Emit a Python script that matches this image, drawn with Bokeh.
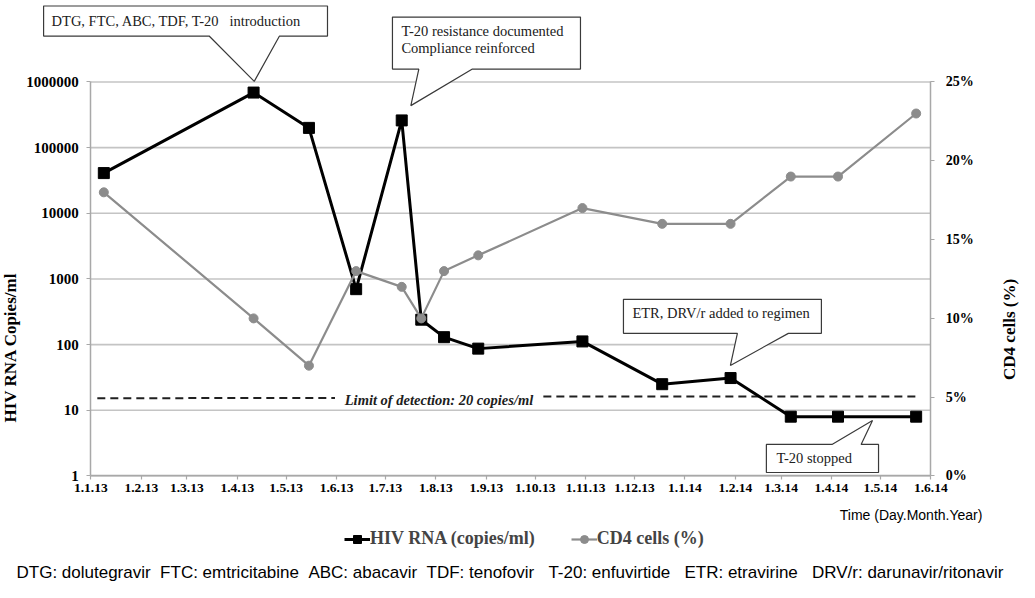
import numpy as np
from bokeh.plotting import figure
from bokeh.models import (ColumnDataSource, FixedTicker, Label, Legend, LegendItem,
                          LinearAxis, LinearScale, PolyAnnotation, Range1d)
from bokeh.embed import file_html
from bokeh.resources import INLINE

# ---------------- data ----------------
origin_date = "2013-01-01"
sample_dates = ["2013-01-09", "2013-04-11", "2013-05-15", "2013-06-13", "2013-07-11",
                "2013-07-23", "2013-08-06", "2013-08-27", "2013-10-30", "2013-12-18",
                "2014-01-29", "2014-03-07", "2014-04-05", "2014-05-23"]
hiv_rna = [41000, 690000, 200000, 700, 260000, 240, 130, 87, 112, 25, 31, 8, 8, 8]
cd4_pct = [18, 10, 7, 13, 12, 10, 13, 14, 17, 16, 16, 19, 19, 23]

tick_dates = ["2013-01-01", "2013-02-01", "2013-03-01", "2013-04-01", "2013-05-01",
              "2013-06-01", "2013-07-01", "2013-08-01", "2013-09-01", "2013-10-01",
              "2013-11-01", "2013-12-01", "2014-01-01", "2014-02-01", "2014-03-01",
              "2014-04-01", "2014-05-01", "2014-06-01"]
tick_labels = ["1.1.13", "1.2.13", "1.3.13", "1.4.13", "1.5.13", "1.6.13", "1.7.13",
               "1.8.13", "1.9.13", "1.10.13", "1.11.13", "1.12.13", "1.1.14", "1.2.14",
               "1.3.14", "1.4.14", "1.5.14", "1.6.14"]
rna_ticks = [1, 10, 100, 1000, 10000, 100000, 1000000]
rna_tick_labels = ["1", "10", "100", "1000", "10000", "100000", "1000000"]
cd4_ticks = [0, 5, 10, 15, 20, 25]
cd4_tick_labels = ["0%", "5%", "10%", "15%", "20%", "25%"]

lod_text = "Limit of detection: 20 copies/ml"
NB = "\u00a0"  # keeps the wider gaps of the original (SVG collapses plain spaces)
footnote = ("DTG: dolutegravir " + NB + "FTC: emtricitabine " + NB + "ABC: abacavir " + NB +
            "TDF: tenofovir " + NB * 2 + "T-20: enfuvirtide " + NB * 2 +
            "ETR: etravirine " + NB * 2 + "DRV/r: darunavir/ritonavir")

# ---------------- helpers ----------------
def to_days(dates):
    return (np.array(dates, dtype="datetime64[D]") - np.datetime64(origin_date)).astype(int)

days = to_days(sample_dates)
tick_days = [int(d) for d in to_days(tick_dates)]
x_first, x_last = tick_days[0], tick_days[-1]

src = ColumnDataSource(dict(day=days, rna=hiv_rna, cd4=cd4_pct))

SERIF = "Liberation Serif"
SANS = "Liberation Sans"
AXIS_GRAY = "#a8a8a8"
GRID_GRAY = "#c4c4c4"

# The frame covers the whole canvas so that the call-outs and notes that sit
# outside the axes box are not clipped; the axes are pinned with fixed_location.
p = figure(width=1019, height=582, y_axis_type="log",
           x_range=Range1d(-55.47, 570.49), y_range=Range1d(10 ** -1.622, 10 ** 7.241),
           output_backend="svg", toolbar_location=None,
           min_border_left=0, min_border_right=0, min_border_top=0, min_border_bottom=0)
p.outline_line_color = None
p.background_fill_color = "white"
p.border_fill_color = "white"
p.grid.visible = False

def style_axis(ax, size="14px"):
    ax.axis_line_color = AXIS_GRAY
    ax.axis_line_width = 1.5
    ax.major_tick_line_color = AXIS_GRAY
    ax.major_tick_line_width = 1.2
    ax.major_tick_in = 0
    ax.major_tick_out = 4
    ax.major_label_text_font = SERIF
    ax.major_label_text_font_style = "bold"
    ax.major_label_text_font_size = size
    ax.major_label_text_color = "black"

# x axis
xax = p.xaxis[0]
xax.ticker = FixedTicker(ticks=tick_days, minor_ticks=[])
xax.major_label_overrides = {d: l for d, l in zip(tick_days, tick_labels)}
xax.fixed_location = rna_ticks[0]
xax.bounds = (x_first, x_last)
style_axis(xax, "13.5px")
xax.major_label_standoff = 4

# left (log) axis
yax = p.yaxis[0]
yax.ticker = FixedTicker(ticks=rna_ticks, minor_ticks=[])
yax.major_label_overrides = {t: l for t, l in zip(rna_ticks, rna_tick_labels)}
yax.fixed_location = x_first
yax.bounds = (rna_ticks[0], rna_ticks[-1])
style_axis(yax, "15px")
yax.major_label_standoff = 8

# right (CD4 %) axis on a linear scale
p.extra_y_ranges = {"cd4": Range1d(-6.758, 30.171)}
p.extra_y_scales = {"cd4": LinearScale()}
rax = LinearAxis(y_range_name="cd4")
rax.ticker = FixedTicker(ticks=cd4_ticks, minor_ticks=[])
rax.major_label_overrides = {t: l for t, l in zip(cd4_ticks, cd4_tick_labels)}
rax.fixed_location = x_last
rax.bounds = (cd4_ticks[0], cd4_ticks[-1])
style_axis(rax)
rax.major_label_standoff = 11
p.add_layout(rax, "right")

# horizontal grid lines at the decade ticks, between the two axes
p.segment(x0=[x_first] * len(rna_ticks), x1=[x_last] * len(rna_ticks),
          y0=rna_ticks, y1=rna_ticks, line_color=GRID_GRAY, line_width=1.6)

# axis titles
p.add_layout(Label(x=-49.5, y=10 ** 1.957, text="HIV RNA Copies/ml", angle=np.pi / 2,
                   text_align="center", text_baseline="middle", text_font=SERIF,
                   text_font_style="bold", text_font_size="17px", text_color="black"))
p.add_layout(Label(x=564.5, y=9.3, y_range_name="cd4", text="CD4 cells (%)",
                   angle=np.pi / 2, text_align="center", text_baseline="middle",
                   text_font=SERIF, text_font_style="bold", text_font_size="17px",
                   text_color="black"))

# limit of detection dashed line (two pieces around its label)
lod_left_x = [4, 150]
lod_left_y = [15.3, 15.4]
lod_right_x = [278, 507]
lod_right_y = [16.2, 16.3]
p.line(lod_left_x, lod_left_y, line_color="#202020", line_width=2, line_dash="8 5")
p.line(lod_right_x, lod_right_y, line_color="#202020", line_width=2, line_dash="8 5")
p.add_layout(Label(x=156, y=10 ** 1.155, text=lod_text, text_baseline="middle",
                   text_font=SERIF, text_font_style="bold italic", text_font_size="14.5px",
                   text_color="#202020"))

# series
rna_line = p.line("day", "rna", source=src, line_color="black", line_width=3)
rna_pts = p.scatter("day", "rna", source=src, marker="square", size=11,
                    fill_color="black", line_color="black")
cd4_line = p.line("day", "cd4", source=src, y_range_name="cd4",
                  line_color="#8c8c8c", line_width=2.2)
cd4_pts = p.scatter("day", "cd4", source=src, y_range_name="cd4", marker="circle",
                    size=9, fill_color="#8c8c8c", line_color="#8c8c8c")

# callouts (data units)
def callout(x0, x1, ytop, ybot, b1, b2, tipx, tipy, side="bottom"):
    if side == "bottom":
        xs = [x0, x1, x1, b2, tipx, b1, x0]
        ys = [ytop, ytop, ybot, ybot, tipy, ybot, ybot]
    else:
        xs = [x0, b1, tipx, b2, x1, x1, x0]
        ys = [ytop, ytop, tipy, ytop, ytop, ybot, ybot]
    p.add_layout(PolyAnnotation(xs=xs, ys=ys, fill_color="white", fill_alpha=1.0,
                                line_color="#3a3a3a", line_alpha=1.0, line_width=1.2))

def note(x, y, text):
    p.add_layout(Label(x=x, y=y, text=text, text_baseline="middle", text_font=SERIF,
                       text_font_size="14.5px", text_color="#202020"))

callout(-29, 145.4, 10 ** 7.157, 10 ** 6.70, 72.7, 115.9, 100.4, 10 ** 6.01)
note(-24.1, 10 ** 6.928, "DTG, FTC, ABC, TDF, T-20 " + NB * 2 + "introduction")

callout(185.3, 300.8, 10 ** 6.989, 10 ** 6.197, 201.5, 234.4, 196.6, 10 ** 5.64)
note(190.8, 10 ** 6.776, "T-20 resistance documented")
note(190.8, 10 ** 6.517, "Compliance reinforced")

callout(327.2, 448.8, 10 ** 2.691, 10 ** 2.172, 397.2, 428.5, 392.9, 10 ** 1.684)
note(332.7, 10 ** 2.477, "ETR, DRV/r added to regimen")

callout(415.0, 483.9, 10 ** 0.480, 10 ** 0.053, 455.3, 473.2, 480.2, 10 ** 0.846, side="top")
note(421.2, 10 ** 0.267, "T-20 stopped")

# x title, legend, footnote (below the axes box)
p.add_layout(Label(x=547.7, y=10 ** -0.587, text="Time (Day.Month.Year)", text_align="right",
                   text_baseline="middle", text_font=SANS, text_font_size="14px",
                   text_color="black"))

legend = Legend(items=[LegendItem(label="HIV RNA (copies/ml)", renderers=[rna_line, rna_pts]),
                       LegendItem(label="CD4 cells (%)", renderers=[cd4_line, cd4_pts])],
                orientation="horizontal", location=(344, 33),
                border_line_color=None, background_fill_alpha=0,
                label_text_font=SERIF, label_text_font_style="bold",
                label_text_font_size="18px", glyph_width=26, glyph_height=20,
                label_standoff=0, spacing=36, padding=0, margin=0)
p.add_layout(legend)

p.add_layout(Label(x=257.5, y=10 ** -1.47, text=footnote, text_align="center",
                   text_baseline="middle", text_font=SANS, text_font_size="17px",
                   text_color="black"))

open("out.html", "w").write(file_html(p, INLINE))
